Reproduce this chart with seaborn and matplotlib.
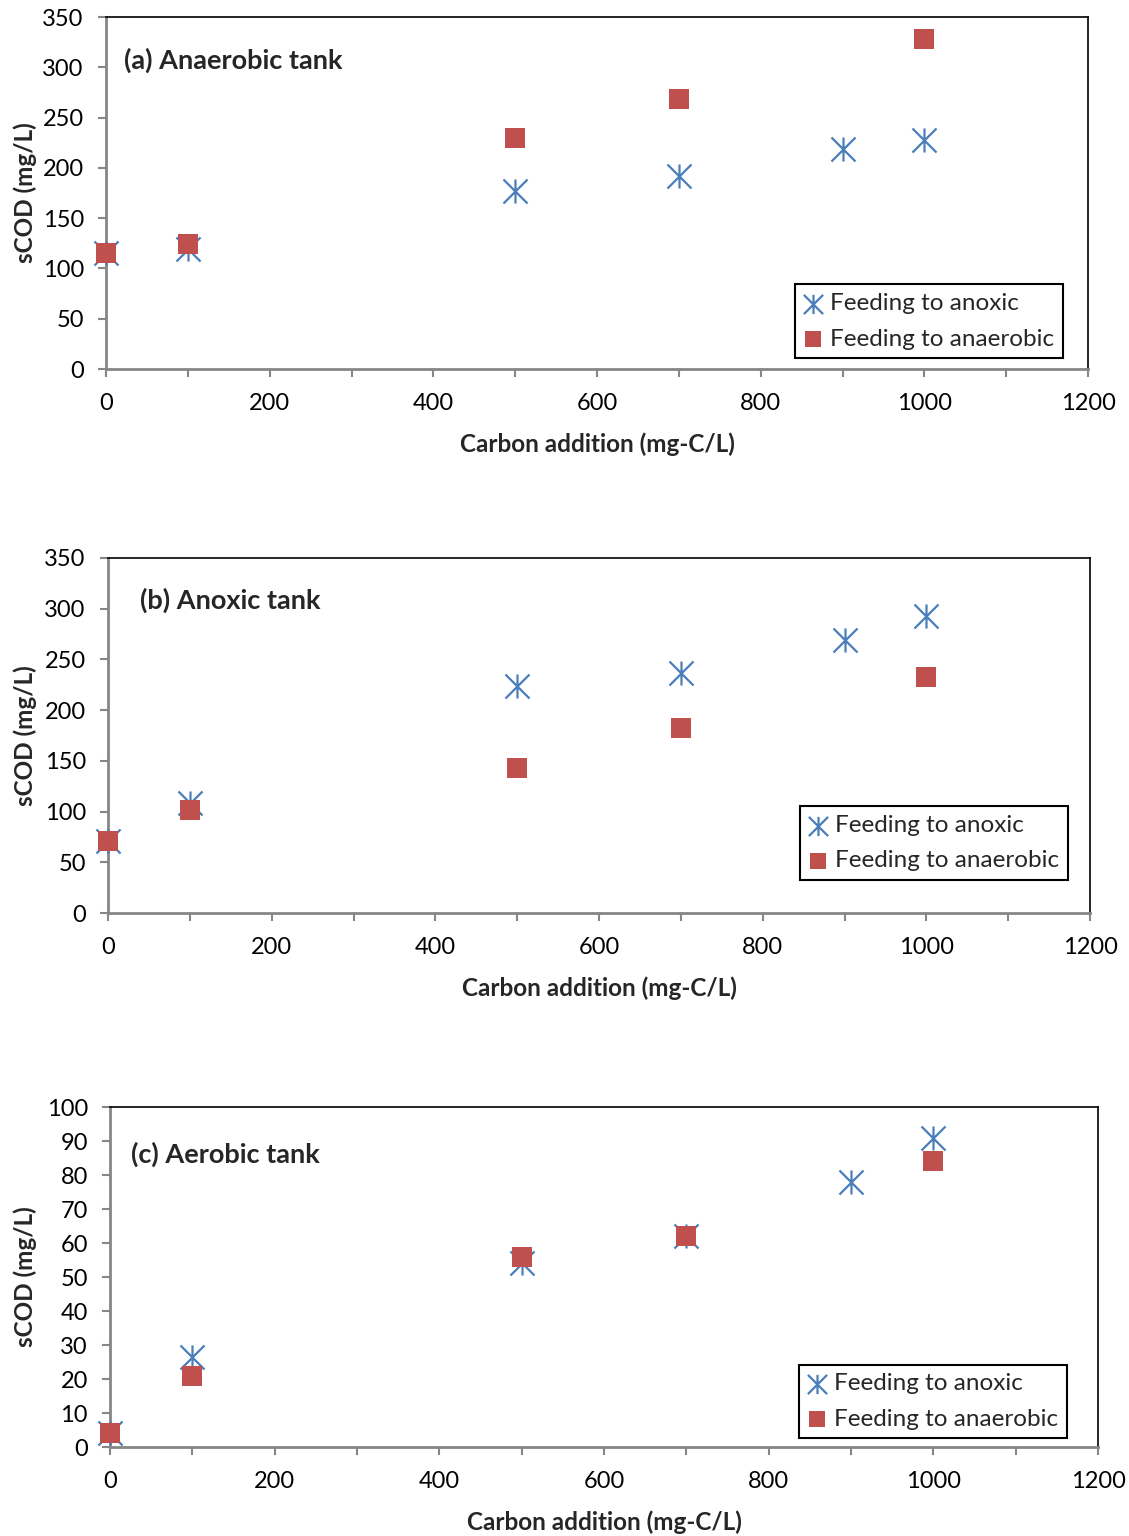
import numpy as np
import pandas as pd
import matplotlib
matplotlib.use("Agg")
import matplotlib.pyplot as plt
from matplotlib.path import Path
from matplotlib.ticker import MultipleLocator
import seaborn as sns

# Data
carbon = [0, 100, 500, 700, 900, 1000]
a_anoxic = [115, 119, 177, 192, 219, 228]
a_anaerobic = [115, 124, 230, 268, np.nan, 328]
b_anoxic = [71, 108, 224, 237, 269, 293]
b_anaerobic = [71, 102, 143, 182, np.nan, 233]
c_anoxic = [4, 26.5, 54, 62, 78, 91]
c_anaerobic = [4, 21, 56, 62, np.nan, 84]

titles = ["(a) Anaerobic tank", "(b) Anoxic tank", "(c) Aerobic tank"]
series_names = ["Feeding to anoxic", "Feeding to anaerobic"]

sns.set_style("white")
plt.rcParams["font.family"] = ["Lato", "DejaVu Sans"]

blue = "#4a7ebb"
red = "#c0504d"
grey = "#868686"

# Excel-like asterisk: vertical bar plus an X
star = Path([(0, -1), (0, 1), (-1, -1), (1, 1), (-1, 1), (1, -1)],
            [Path.MOVETO, Path.LINETO, Path.MOVETO, Path.LINETO, Path.MOVETO, Path.LINETO])

fig = plt.figure(figsize=(11.29, 15.36), dpi=100)

# axes rectangles in figure fractions [left, bottom, width, height]
rects = [
    [106 / 1129, 1 - 369 / 1536, 982 / 1129, 352 / 1536],
    [108 / 1129, 1 - 913 / 1536, 982 / 1129, 355 / 1536],
    [110 / 1129, 1 - 1447 / 1536, 988 / 1129, 340 / 1536],
]
ylims = [(0, 350, 50), (0, 350, 50), (0, 100, 10)]
title_pos = [(0.018, 0.878), (0.0326, 0.882), (0.021, 0.862)]
legend_anchor = [(0.9745, 0.031), (0.9776, 0.093), (0.9686, 0.026)]
panels = [(a_anoxic, a_anaerobic), (b_anoxic, b_anaerobic), (c_anoxic, c_anaerobic)]

for i, (anox, anaer) in enumerate(panels):
    ax = fig.add_axes(rects[i])
    df = pd.DataFrame({"carbon": carbon, "anoxic": anox, "anaerobic": anaer})

    sns.scatterplot(data=df, x="carbon", y="anoxic", ax=ax, marker=star, s=300,
                    color=blue, edgecolor=blue, linewidth=1.6, clip_on=False,
                    label=series_names[0], zorder=3)
    sns.scatterplot(data=df.dropna(), x="carbon", y="anaerobic", ax=ax, marker="s",
                    s=200, color=red, edgecolor=red, linewidth=0, clip_on=False,
                    label=series_names[1], zorder=4)

    lo, hi, step = ylims[i]
    ax.set_xlim(0, 1200)
    ax.set_ylim(lo, hi)
    ax.xaxis.set_major_locator(MultipleLocator(200))
    ax.xaxis.set_minor_locator(MultipleLocator(100))
    ax.yaxis.set_major_locator(MultipleLocator(step))

    for side in ["left", "bottom"]:
        ax.spines[side].set_color(grey)
        ax.spines[side].set_linewidth(2)
    for side in ["top", "right"]:
        ax.spines[side].set_color("black")
        ax.spines[side].set_linewidth(1.2)

    ax.tick_params(axis="both", which="both", direction="out", color=grey,
                   width=1.5, length=6, labelsize=17, labelcolor="black")
    ax.tick_params(axis="x", which="both", bottom=True, pad=11)
    ax.tick_params(axis="y", which="both", left=True, pad=10)

    ax.set_xlabel("Carbon addition (mg-C/L)", fontsize=17.5, fontweight="bold")
    ax.set_ylabel("sCOD (mg/L)", fontsize=17.5, fontweight="bold")
    h_px = rects[i][3] * 1536
    w_px = rects[i][2] * 1129
    ax.xaxis.set_label_coords(0.5, -75 / h_px)
    ax.xaxis.label.set_va("center")
    left_px = rects[i][0] * 1129
    ax.yaxis.set_label_coords((25 - left_px) / w_px, 0.5)
    ax.yaxis.label.set_va("center")

    ax.text(title_pos[i][0], title_pos[i][1], titles[i], transform=ax.transAxes,
            fontsize=19.5, fontweight="bold", va="center", ha="left")

    leg = ax.legend(loc="lower right", bbox_to_anchor=legend_anchor[i],
                    borderaxespad=0, fontsize=17.5, markerscale=0.8, frameon=True,
                    fancybox=False, framealpha=1, edgecolor="black",
                    handlelength=0.8, handletextpad=0.3, labelspacing=0.6,
                    borderpad=0.35)
    leg.get_frame().set_linewidth(1.5)

fig.savefig("out.png", dpi=100)
